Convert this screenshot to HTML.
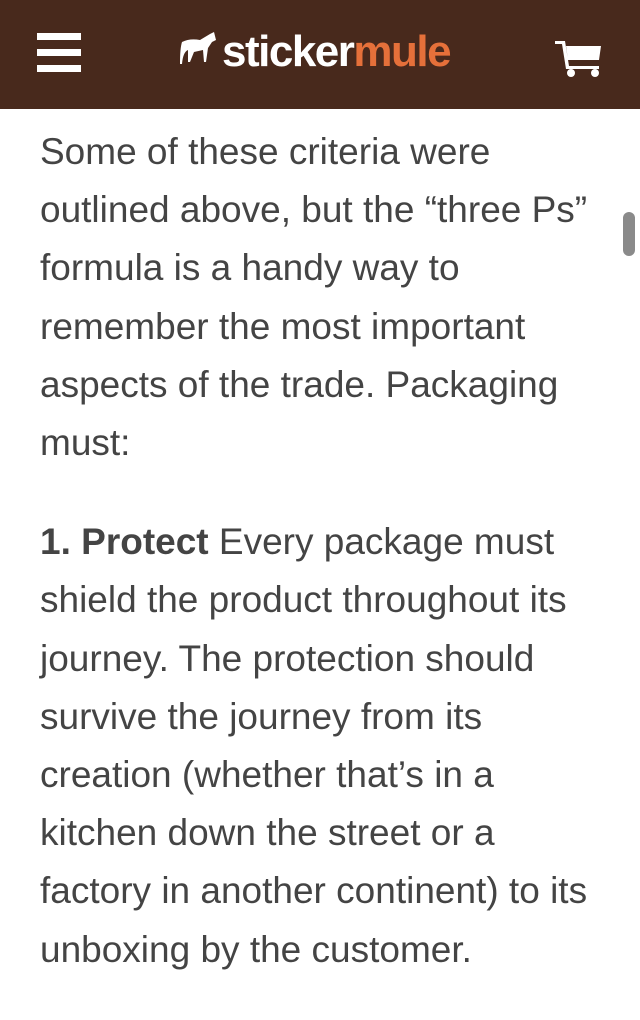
<!DOCTYPE html>
<html><head><meta charset="utf-8"><style>
html,body{margin:0;padding:0;width:640px;height:959px;overflow:hidden;background:#fff;}
header{position:absolute;left:0;top:0;width:640px;height:109px;background:#48291c;}
.menu{position:absolute;left:37px;top:33px;width:44px;height:40px;}
.menu div{position:absolute;left:0;width:44px;height:7px;background:#fff;}
.logo{position:absolute;left:180px;top:27px;font-family:"Liberation Sans",sans-serif;font-size:44px;font-weight:bold;color:#fff;letter-spacing:-1.5px;}
.logo span{color:#e5703a;}
.cart{position:absolute;left:555px;top:38px;}
.content{position:absolute;left:40px;top:123px;font-family:"Liberation Sans",sans-serif;font-size:37px;line-height:58.2px;color:#444;white-space:nowrap;}
.content p{margin:0 0 41px 0;}
.scroll{position:absolute;left:623px;top:212px;width:12px;height:44px;border-radius:6px;background:#8a8a8a;}
</style></head><body>
<header>
 <div class="menu"><div style="top:0"></div><div style="top:16px"></div><div style="top:32px"></div></div>
 <div class="logo"><svg width="40" height="38" viewBox="0 0 40 38" style="vertical-align:-4px;margin-right:2px"><path d="M2 10 Q10 6 20 8 L30 2 L34 0 L36 8 L32 10 L28 16 L26 30 L24 30 L23 18 L14 20 L10 30 L8 30 L8 18 Q3 20 2 32 L0 32 Q0 16 2 10Z" fill="#fff"/></svg>sticker<span>mule</span></div>
 <svg class="cart" width="48" height="40" viewBox="0 0 48 40"><path d="M0 3 H10 L14 28 H44 V31 H11 L7 6 H0Z M11 8 H46 L44 22 H13Z" fill="#fff"/><circle cx="16" cy="35" r="4" fill="#fff"/><circle cx="40" cy="35" r="4" fill="#fff"/></svg>
</header>
<div class="content">
<p>Some of these criteria were<br>outlined above, but the “three Ps”<br>formula is a handy way to<br>remember the most important<br>aspects of the trade. Packaging<br>must:</p>
<p><b>1. Protect</b> Every package must<br>shield the product throughout its<br>journey. The protection should<br>survive the journey from its<br>creation (whether that’s in a<br>kitchen down the street or a<br>factory in another continent) to its<br>unboxing by the customer.</p>
</div>
<div class="scroll"></div>
</body></html>
